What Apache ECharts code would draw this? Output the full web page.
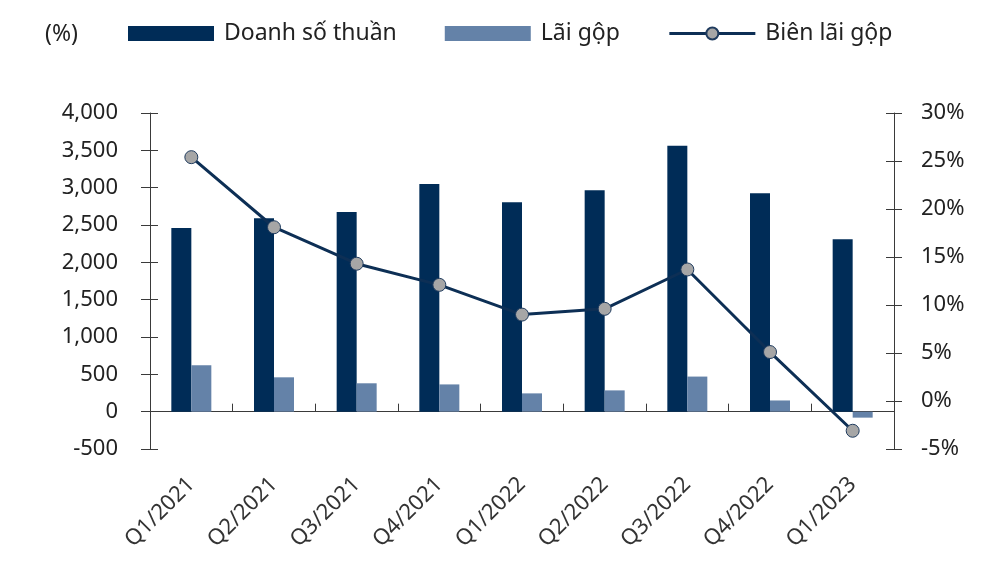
<!DOCTYPE html>
<html>
<head>
<meta charset="utf-8">
<script src="https://cdn.jsdelivr.net/npm/echarts@6/dist/echarts.min.js"></script>
<style>
  html, body { margin: 0; padding: 0; background: #fff; }
  #chart { width: 1000px; height: 573px; }
</style>
</head>
<body>
<div id="chart"></div>
<script>
// số liệu
const quarters = ['Q1/2021', 'Q2/2021', 'Q3/2021', 'Q4/2021', 'Q1/2022', 'Q2/2022', 'Q3/2022', 'Q4/2022', 'Q1/2023'];
const doanhSoThuan = [2460, 2590, 2675, 3050, 2805, 2965, 3560, 2925, 2310];
const laiGop = [620, 460, 380, 365, 245, 285, 470, 150, -80];
const bienLaiGop = [25.4, 18.1, 14.3, 12.1, 9.0, 9.6, 13.7, 5.1, -3.1];

const font = 'Noto Sans';
const axisColor = '#3a3a3a';
const textColor = '#222';

const chart = echarts.init(document.getElementById('chart'));

// trục phụ chỉ để vẽ vạch chia cắt qua trục (hai phía)
const innerTickAxis = (position, min, max, interval) => ({
    type: 'value',
    position,
    min, max, interval,
    axisLine: { show: false },
    axisTick: { show: true, inside: true, length: 8, lineStyle: { color: axisColor } },
    axisLabel: { show: false },
    splitLine: { show: false }
});

const option = {
    animation: false,
    textStyle: { fontFamily: font },
    grid: { left: 150, right: 106, top: 113, bottom: 124, containLabel: false, outerBoundsMode: 'none' },
    graphic: [{
        type: 'text',
        left: 45,
        top: 23,
        style: { text: '(%)', fontFamily: font, fontSize: 23, fill: textColor }
    }],
    legend: {
        left: 128,
        top: 22,
        padding: 0,
        itemWidth: 86,
        itemHeight: 15,
        itemGap: 48,
        textStyle: { fontFamily: font, fontSize: 23, color: textColor, padding: [0, 0, 0, 5] },
        data: [
            { name: 'Doanh số thuần', icon: 'rect' },
            { name: 'Lãi gộp', icon: 'rect' },
            { name: 'Biên lãi gộp', lineStyle: { width: 3, color: '#0d2f55' } }
        ]
    },
    xAxis: {
        type: 'category',
        data: quarters,
        boundaryGap: true,
        axisLine: { onZero: true, onZeroAxisIndex: 0, lineStyle: { color: axisColor, width: 1 } },
        axisTick: { show: true, inside: true, length: 8, lineStyle: { color: axisColor } },
        axisLabel: { rotate: 45, margin: 32, fontSize: 22, color: '#333', fontFamily: font, interval: 0 },
        splitLine: { show: false }
    },
    yAxis: [
        {
            type: 'value',
            position: 'left',
            min: -500, max: 4000, interval: 500,
            axisLine: { show: true, lineStyle: { color: axisColor } },
            axisTick: { show: true, length: 9, lineStyle: { color: axisColor } },
            axisLabel: { margin: 32, fontSize: 22, color: textColor, fontFamily: font,
                formatter: v => v.toLocaleString('en-US') },
            splitLine: { show: false }
        },
        {
            type: 'value',
            position: 'right',
            min: -5, max: 30, interval: 5,
            axisLine: { show: true, lineStyle: { color: axisColor } },
            axisTick: { show: true, length: 8, lineStyle: { color: axisColor } },
            axisLabel: { margin: 27, fontSize: 22, color: textColor, fontFamily: font,
                formatter: v => v + '%' },
            splitLine: { show: false }
        },
        innerTickAxis('left', -500, 4000, 500),
        innerTickAxis('right', -5, 30, 5)
    ],
    series: [
        {
            name: 'Doanh số thuần',
            type: 'bar',
            data: doanhSoThuan,
            barWidth: 20,
            barGap: '0%',
            itemStyle: { color: '#002c57' }
        },
        {
            name: 'Lãi gộp',
            type: 'bar',
            data: laiGop,
            barWidth: 20,
            itemStyle: { color: '#6482a8' }
        },
        {
            name: 'Biên lãi gộp',
            type: 'line',
            yAxisIndex: 1,
            data: bienLaiGop,
            symbol: 'circle',
            symbolSize: 13,
            lineStyle: { color: '#0d2f55', width: 3 },
            itemStyle: { color: '#a6a6a6', borderColor: '#1f3b5e', borderWidth: 1 },
            z: 5
        }
    ]
};

chart.setOption(option);
</script>
</body>
</html>
